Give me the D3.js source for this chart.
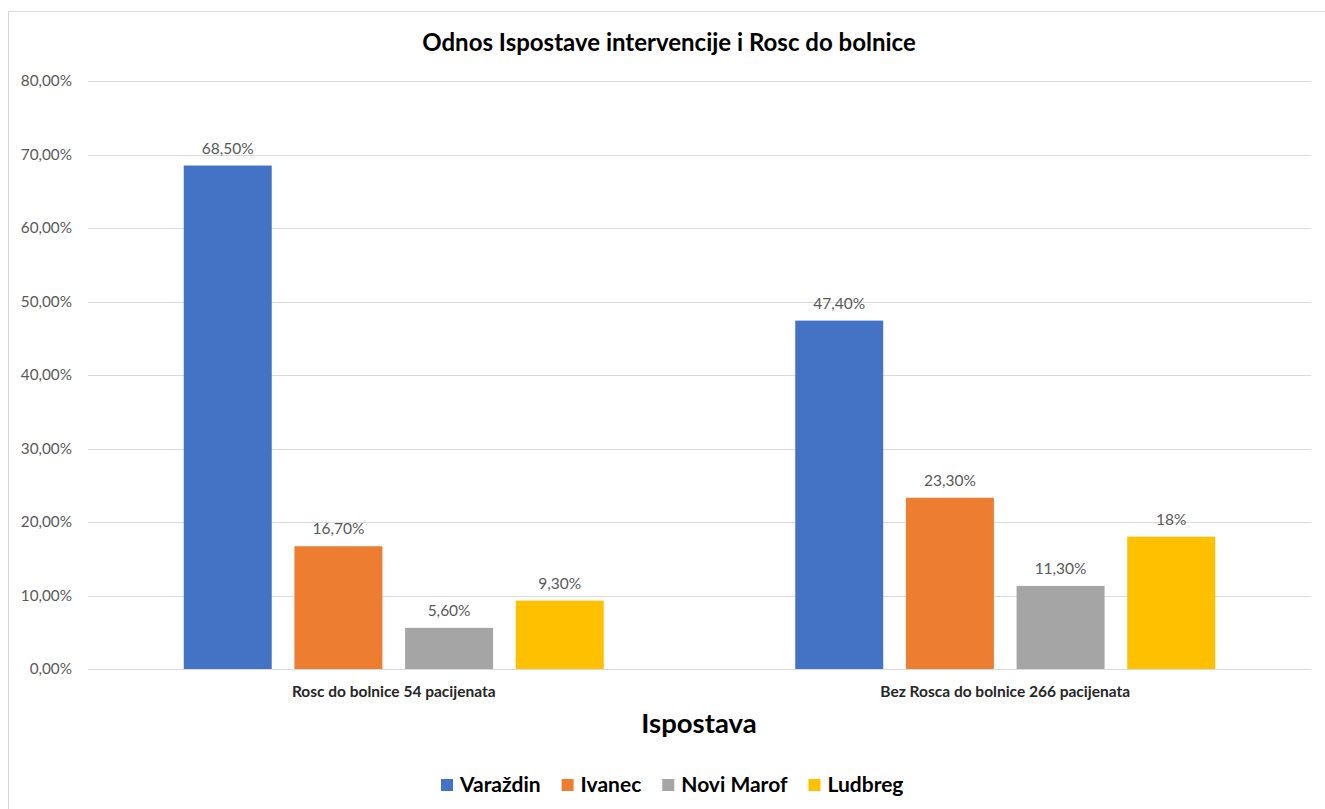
<!DOCTYPE html>
<html>
<head>
<meta charset="utf-8">
<script src="https://cdn.jsdelivr.net/npm/d3@7"></script>
<style>
  html, body { margin: 0; padding: 0; background: #fff; }
  svg { display: block; font-family: Lato, "Open Sans", sans-serif; }
</style>
</head>
<body>
<div id="chart"></div>
<script>
// chart data
const categories = ['Rosc do bolnice 54 pacijenata', 'Bez Rosca do bolnice 266 pacijenata'];
const seriesNames = ['Varaždin', 'Ivanec', 'Novi Marof', 'Ludbreg'];
const seriesColors = ['#4472C4', '#ED7D31', '#A5A5A5', '#FFC000'];
const valuesVarazdin = [68.5, 47.4];
const valuesIvanec = [16.7, 23.3];
const valuesNoviMarof = [5.6, 11.3];
const valuesLudbreg = [9.3, 18];
const valueLabels = [['68,50%', '47,40%'], ['16,70%', '23,30%'], ['5,60%', '11,30%'], ['9,30%', '18%']];
const yTicks = [0, 10, 20, 30, 40, 50, 60, 70, 80];

const seriesValues = [valuesVarazdin, valuesIvanec, valuesNoviMarof, valuesLudbreg];

const W = 1325, H = 809;
const plot = { left: 88, right: 1311, top: 81, bottom: 669 };

const svg = d3.select('#chart').append('svg')
  .attr('width', W)
  .attr('height', H);

// chart frame
svg.append('rect')
  .attr('x', 8.5).attr('y', 11.5)
  .attr('width', 1330).attr('height', 820)
  .attr('fill', '#fff')
  .attr('stroke', '#D9D9D9')
  .attr('stroke-width', 1);

const y = d3.scaleLinear().domain([0, 80]).range([plot.bottom, plot.top]);
const x0 = d3.scaleBand().domain(categories).range([plot.left, plot.right]).padding(0);
const groupPad = 95.75;
const x1 = d3.scaleBand().domain(seriesNames)
  .range([groupPad, x0.bandwidth() - groupPad])
  .paddingInner(0.205).paddingOuter(0);

// gridlines
svg.append('g')
  .selectAll('line')
  .data(yTicks)
  .join('line')
  .attr('x1', plot.left).attr('x2', plot.right)
  .attr('y1', d => Math.round(y(d)) + 0.5)
  .attr('y2', d => Math.round(y(d)) + 0.5)
  .attr('stroke', '#D9D9D9')
  .attr('stroke-width', 1);

// y tick labels
svg.append('g')
  .selectAll('text')
  .data(yTicks)
  .join('text')
  .attr('x', 72)
  .attr('y', d => y(d))
  .attr('dy', '0.35em')
  .attr('text-anchor', 'end')
  .attr('fill', '#595959')
  .attr('font-size', 15.3)
  .text(d => d3.format('.2f')(d).replace('.', ',') + '%');

// bars
const groups = svg.append('g')
  .selectAll('g')
  .data(categories)
  .join('g')
  .attr('transform', c => `translate(${x0(c)},0)`);

const barData = (c, ci) => seriesNames.map((s, si) => ({ s, si, v: seriesValues[si][ci], label: valueLabels[si][ci] }));

groups.selectAll('rect')
  .data(barData)
  .join('rect')
  .attr('x', d => x1(d.s))
  .attr('width', x1.bandwidth())
  .attr('y', d => y(d.v))
  .attr('height', d => y(0) - y(d.v))
  .attr('fill', d => seriesColors[d.si]);

groups.selectAll('text.val')
  .data(barData)
  .join('text')
  .attr('class', 'val')
  .attr('x', d => x1(d.s) + x1.bandwidth() / 2)
  .attr('y', d => y(d.v) - 12)
  .attr('text-anchor', 'middle')
  .attr('fill', '#595959')
  .attr('font-size', 15.5)
  .text(d => d.label);

// category labels
svg.append('g')
  .selectAll('text')
  .data(categories)
  .join('text')
  .attr('x', c => x0(c) + x0.bandwidth() / 2)
  .attr('y', 697)
  .attr('text-anchor', 'middle')
  .attr('fill', '#262626')
  .attr('font-size', 15.5)
  .attr('font-weight', 'bold')
  .text(c => c);

// title
svg.append('text')
  .attr('x', 669)
  .attr('y', 51)
  .attr('text-anchor', 'middle')
  .attr('fill', '#000')
  .attr('font-size', 24)
  .attr('font-weight', 'bold')
  .text('Odnos Ispostave intervencije i Rosc do bolnice');

// axis title
svg.append('text')
  .attr('x', 699)
  .attr('y', 733)
  .attr('text-anchor', 'middle')
  .attr('fill', '#000')
  .attr('font-size', 27.5)
  .attr('font-weight', 'bold')
  .text('Ispostava');

// legend
const legend = svg.append('g').attr('transform', 'translate(441,792)');
let lx = 0;
seriesNames.forEach((name, i) => {
  const item = legend.append('g').attr('transform', `translate(${lx},0)`);
  item.append('rect')
    .attr('x', 0).attr('y', -13)
    .attr('width', 12).attr('height', 12)
    .attr('fill', seriesColors[i]);
  const t = item.append('text')
    .attr('x', 19).attr('y', 0)
    .attr('fill', '#000')
    .attr('font-size', 21)
    .attr('font-weight', 'bold')
    .text(name);
  lx += 19 + t.node().getComputedTextLength() + 21;
});
</script>
</body>
</html>
